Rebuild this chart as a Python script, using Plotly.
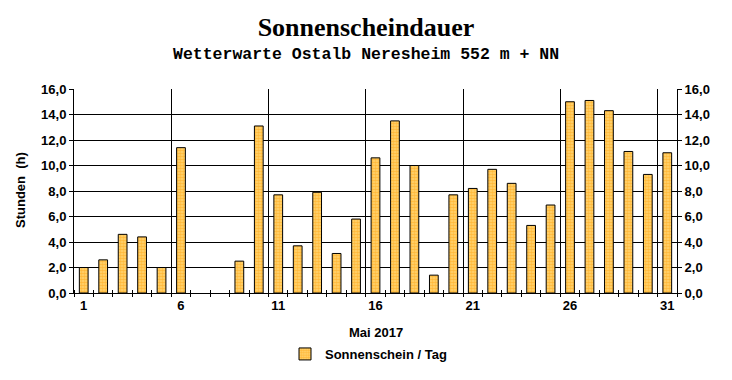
import plotly.graph_objects as go

days = list(range(1, 32))
sunshine = [2.0, 2.6, 4.6, 4.4, 2.0, 11.4, None, None, 2.5, 13.1,
            7.7, 3.7, 7.9, 3.1, 5.8, 10.6, 13.5, 10.0, 1.4, 7.7,
            8.2, 9.7, 8.6, 5.3, 6.9, 15.0, 15.1, 14.3, 11.1, 9.3, 11.0]
label_days = [1, 6, 11, 16, 21, 26, 31]
grid_positions = [5.5, 10.5, 15.5, 20.5, 25.5, 30.5]
y_ticks = [0, 2, 4, 6, 8, 10, 12, 14, 16]

title_text = "Sonnenscheindauer"
subtitle_text = "Wetterwarte Ostalb Neresheim 552 m + NN"
x_title = "Mai 2017"
y_title = "Stunden  (h)"
series_name = "Sonnenschein / Tag"

FONT = "Liberation Sans"
tickfont = dict(family=FONT, size=13, color="black", weight="bold")

# page body has an 8px margin: figure is drawn 8px right/down
W, H, OFF = 724, 372, 8
L, T = 74 - OFF, 89 - OFF
R, B = 55, 87
PW = W - L - R
PH = H - T - B

def px_x(x):
    return (x - OFF - L) / PW

def px_y(y):
    return (H - B - (y - OFF)) / PH

fig = go.Figure()
fig.add_trace(go.Bar(
    x=days, y=sunshine, name=series_name, width=0.45,
    marker=dict(color="#FFC050",
                line=dict(color="black", width=1),
                pattern=dict(shape=".", fgcolor="#FF9900", bgcolor="#FFD878",
                             size=3, solidity=0.65)),
    xaxis="x", yaxis="y",
))
fig.add_trace(go.Scatter(x=[days[0]], y=[0], xaxis="x2", yaxis="y2",
                         mode="markers", marker=dict(opacity=0),
                         showlegend=False, hoverinfo="skip"))

fig.update_layout(
    width=W, height=H,
    margin=dict(l=L, r=R, t=T, b=B, pad=0, autoexpand=False),
    paper_bgcolor="white", plot_bgcolor="white",
    separators=",.",
    title=dict(text=title_text, x=(366 - OFF) / W, xref="container",
               xanchor="center",
               y=1 - (27 - OFF) / H, yref="container", yanchor="middle",
               font=dict(family="Liberation Serif", size=26, color="black",
                         weight="bold")),
    xaxis=dict(range=[0.5, 31.5], tickmode="array", tickvals=label_days,
               ticktext=[str(d) for d in label_days], ticks="",
               showgrid=False, zeroline=False, showline=True,
               linecolor="black", linewidth=1, tickfont=tickfont,
               minor=dict(tick0=0.5, dtick=1, ticks="outside", ticklen=3,
                          tickcolor="black", showgrid=False)),
    xaxis2=dict(range=[0.5, 31.5], overlaying="x", tickmode="array",
                tickvals=grid_positions, showticklabels=False, ticks="",
                showgrid=True, gridcolor="black", gridwidth=1,
                zeroline=False, showline=False,
                minor=dict(tick0=0.5, dtick=1, ticks="inside", ticklen=3,
                           tickcolor="black", showgrid=False)),
    yaxis=dict(range=[0, 16], tickmode="array", tickvals=y_ticks,
               tickformat=".1f", ticks="outside", ticklen=4,
               tickcolor="black", showgrid=True, gridcolor="black",
               gridwidth=1, zeroline=False, showline=True,
               linecolor="black", linewidth=1, tickfont=tickfont),
    yaxis2=dict(range=[0, 16], overlaying="y", side="right",
                tickmode="array", tickvals=y_ticks, tickformat=".1f",
                ticks="outside", ticklen=4, tickcolor="black",
                showgrid=False, zeroline=False, showline=True,
                linecolor="black", linewidth=1, tickfont=tickfont),
    showlegend=True,
    legend=dict(orientation="h", x=px_x(285), xanchor="left",
                y=px_y(354), yanchor="middle",
                font=dict(family=FONT, size=13, color="black", weight="bold"),
                bgcolor="rgba(0,0,0,0)"),
    annotations=[
        dict(text=subtitle_text, xref="paper", yref="paper",
             x=px_x(366), y=px_y(55), showarrow=False,
             xanchor="center", yanchor="middle",
             font=dict(family="Liberation Mono", size=16.5, color="black",
                       weight="bold")),
        dict(text=x_title, xref="paper", yref="paper", x=0.5,
             y=px_y(332), showarrow=False, xanchor="center",
             yanchor="middle",
             font=dict(family=FONT, size=13, color="black", weight="bold")),
        dict(text=y_title, xref="paper", yref="paper",
             x=px_x(20), y=px_y(190), showarrow=False,
             textangle=-90, xanchor="center", yanchor="middle",
             font=dict(family=FONT, size=13, color="black", weight="bold")),
    ],
)

fig.write_html("out.html")
